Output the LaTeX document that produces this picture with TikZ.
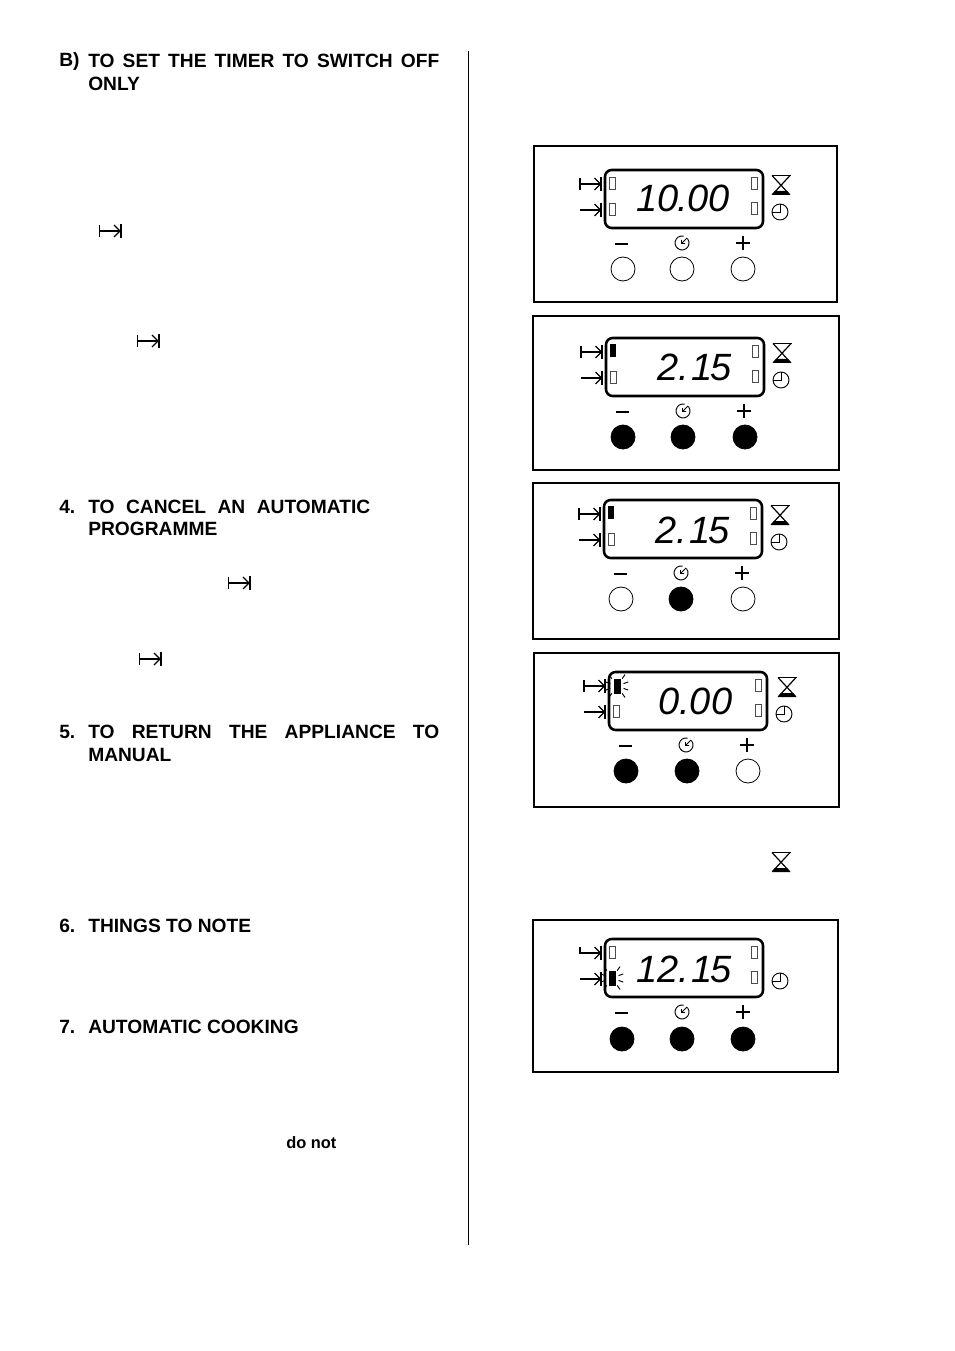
\documentclass[tikz,border=0pt]{standalone}
\usepackage{fontspec}
\setmainfont{Liberation Sans}
\newfontfamily\lcdfont{Liberation Sans}
\usepackage{tikz}
\usetikzlibrary{positioning}

\tikzset{
  head/.style={anchor=base west,inner sep=0pt,font=\fontsize{14.4}{17.25}\selectfont\bfseries},
  headtext/.style={anchor=north west,inner sep=0pt,font=\fontsize{14.4}{17.25}\selectfont\bfseries,align=justify,text width=#1*0.75pt},
  panelframe/.style={draw,line width=1.1pt},
  lcdframe/.style={draw,line width=1.9pt,rounded corners=5pt},
  onbtn/.style={circle,draw,fill=black,inner sep=0pt,minimum size=18pt,line width=0.6pt},
  offbtn/.style={circle,draw,fill=white,inner sep=0pt,minimum size=18pt,line width=0.6pt},
  lcdread/.style={anchor=base west,inner sep=0pt,font=\fontsize{28.5}{30}\lcdfont\itshape},
  symline/.style={line width=0.9pt},
  led/.style={draw=black!70,line width=0.5pt}
}

\newcommand{\startsym}[1]{\begin{scope}[shift={#1}]
  \draw[symline] (-10.5,-6) -- (-10.5,6);
  \draw[symline] (-10.5,0) -- (10,0);
  \draw[symline] (4,-6) -- (10,0) -- (4,6);
  \draw[line width=1.4pt] (10.7,-7) -- (10.7,7);
\end{scope}}
\newcommand{\stopsym}[1]{\begin{scope}[shift={#1}]
  \draw[symline] (-10.5,0) -- (10,0);
  \draw[symline] (4,-6) -- (10,0) -- (4,6);
  \draw[line width=1.4pt] (10.7,-7) -- (10.7,7);
\end{scope}}
\newcommand{\hooksym}[1]{\begin{scope}[shift={#1}]
  \draw[symline] (-10.5,-6) -- (-10.5,0) -- (10,0);
  \draw[symline] (4,-6) -- (10,0) -- (4,6);
  \draw[line width=1.4pt] (10.7,-7) -- (10.7,7);
\end{scope}}
\newcommand{\hourglass}[1]{\begin{scope}[shift={#1}]
  \draw[line width=1.2pt] (-9.5,-9.5) -- (9.5,-9.5);
  \draw[line width=0.9pt] (-9,-9.5) -- (8.5,9.5) (9,-9.5) -- (-8.5,9.5);
  \fill (-9.5,10) -- (9.5,10) -- (6,6) -- (-6,6) -- cycle;
\end{scope}}
\newcommand{\clocksym}[1]{\begin{scope}[shift={#1}]
  \draw[line width=0.7pt] (0,0) circle (8);
  \draw[line width=0.7pt] (0,-8) -- (0,0) -- (-8,0);
\end{scope}}
\newcommand{\timersym}[1]{\begin{scope}[shift={#1}]
  \draw[line width=0.7pt] (1.5,-6.9) arc (-78:-400:7);
  \draw[line width=0.7pt] (5,-5) -- (-0.5,0.5) (-0.5,-3) -- (-0.5,0.5) -- (3,0.5);
\end{scope}}
\newcommand{\ledoff}[1]{\draw[led] #1 +(-3,-6) rectangle +(3,6);}
\newcommand{\ledon}[1]{\fill #1 +(-3,-7) rectangle +(3,6);}
\newcommand{\ledflash}[1]{\begin{scope}[shift={#1}]
  \fill (-3.5,-7.5) rectangle (3.5,7.5);
  \foreach \a/\r in {-55/9,-20/7,20/7,55/9,125/9,160/7,200/7,235/9}
    \draw[line width=0.7pt] (\a:\r) -- (\a:\r+5);
\end{scope}}
\newcommand{\lcdface}{
  \draw[lcdframe] (0,0) rectangle (158,58);
  \stopsym{(-14.5,40)}
  \ledoff{(149,13)}
  \ledoff{(149,38)}
  \clocksym{(175,42)}
  \draw[line width=1.2pt] (10,74) -- (23,74);
  \timersym{(77,73)}
  \draw[line width=1.2pt] (131,73) -- (145,73) (138,66) -- (138,80);
}

\begin{document}
\begin{tikzpicture}[x=0.75pt,y=-0.75pt]
\useasboundingbox (0,0) rectangle (954,1351);

% left column
\node[head] (hbnum) at (59,67) {B)};
\node[headtext=351] (hb) at (88,54) {TO SET THE TIMER TO SWITCH OFF\linebreak ONLY};
\node[head] (hcnum) at (59,513) {4.};
\node[headtext=282,font=\fontsize{14.4}{16.4}\selectfont\bfseries] (hc) at (88,500) {TO CANCEL AN AUTOMATIC\linebreak PROGRAMME};
\node[head] (hrnum) at (59,738) {5.};
\node[headtext=351] (hr) at (88,725) {TO RETURN THE APPLIANCE TO\linebreak MANUAL};
\node[head] (hnnum) at (59,932) {6.};
\node[head] (hn) at (88,932) {THINGS TO NOTE};
\node[head] (hanum) at (59,1033) {7.};
\node[head] (ha) at (88,1033) {AUTOMATIC COOKING};
\node[anchor=base west,inner sep=0pt,font=\fontsize{12.3}{14}\selectfont\bfseries] (donot) at (286,1148) {do not};
\startsym{(110,231)}
\startsym{(148,341)}
\startsym{(239,583)}
\startsym{(150,659)}

\draw[line width=0.7pt] (468,51) -- (468,1245);

% panel 1
\begin{scope}[shift={(605,170)}]
  \draw[panelframe] (-71,-24) rectangle (232,132);
  \lcdface
  \startsym{(-14.5,14)}
  \hourglass{(176,15)}
  \ledoff{(7,13)}
  \ledoff{(7,39)}
  \node[lcdread] (read1) at (31,42) {10\hspace{-0.5pt}.\hspace{-1pt}00};
  \node[offbtn] (minus1) at (18,99) {};
  \node[offbtn] (set1) at (77,99) {};
  \node[offbtn] (plus1) at (138,99) {};
\end{scope}

% panel 2
\begin{scope}[shift={(606,338)}]
  \draw[panelframe] (-73,-22) rectangle (233,132);
  \lcdface
  \startsym{(-14.5,14)}
  \hourglass{(176,15)}
  \ledon{(7,13)}
  \ledoff{(7,39)}
  \node[lcdread] (read2) at (51,43) {2\hspace{0pt}.\hspace{2pt}1\hspace{-1.5pt}5};
  \node[onbtn] (minus2) at (17,99) {};
  \node[onbtn] (set2) at (77,99) {};
  \node[onbtn] (plus2) at (139,99) {};
\end{scope}

% panel 3
\begin{scope}[shift={(604,500)}]
  \draw[panelframe] (-71,-17) rectangle (235,139);
  \lcdface
  \startsym{(-14.5,14)}
  \hourglass{(176,15)}
  \ledon{(7,13)}
  \ledoff{(7,39)}
  \node[lcdread] (read3) at (51,43) {2\hspace{0pt}.\hspace{2pt}1\hspace{-1.5pt}5};
  \node[offbtn] (minus3) at (17,99) {};
  \node[onbtn] (set3) at (77,99) {};
  \node[offbtn] (plus3) at (139,99) {};
\end{scope}

% panel 4
\begin{scope}[shift={(609,672)}]
  \draw[panelframe] (-75,-19) rectangle (230,135);
  \lcdface
  \startsym{(-14.5,14)}
  \hourglass{(178,15)}
  \ledflash{(8,14)}
  \ledoff{(7,39)}
  \node[lcdread] (read4) at (49,42) {0\hspace{0pt}.\hspace{0pt}00};
  \node[onbtn] (minus4) at (17,99) {};
  \node[onbtn] (set4) at (78,99) {};
  \node[offbtn] (plus4) at (139,99) {};
\end{scope}

\hourglass{(781,862)}

% panel 5
\begin{scope}[shift={(605,939)}]
  \draw[panelframe] (-72,-19) rectangle (233,133);
  \lcdface
  \hooksym{(-14.5,14)}
  \ledoff{(7,13)}
  \ledflash{(7,39)}
  \node[lcdread] (read5) at (31,43) {12\hspace{0pt}.\hspace{2pt}1\hspace{-1.5pt}5};
  \node[onbtn] (minus5) at (17,100) {};
  \node[onbtn] (set5) at (77,100) {};
  \node[onbtn] (plus5) at (138,100) {};
\end{scope}

\end{tikzpicture}
\end{document}
